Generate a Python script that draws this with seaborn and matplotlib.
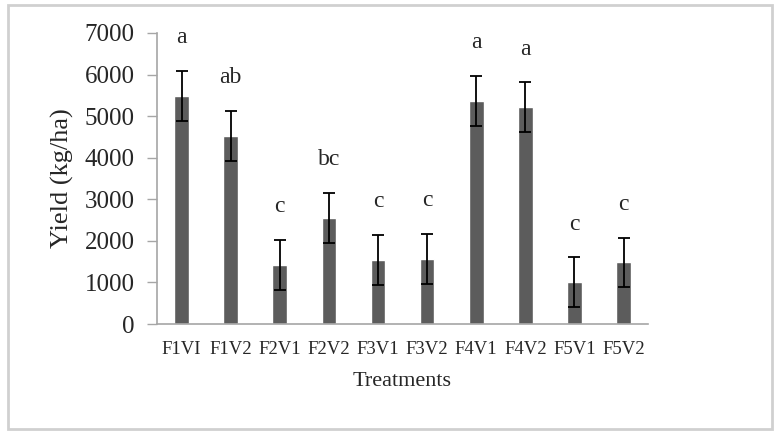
import numpy as np
import pandas as pd
import seaborn as sns
import matplotlib.pyplot as plt
from matplotlib.patches import Rectangle

treatments = ["F1VI", "F1V2", "F2V1", "F2V2", "F3V1", "F3V2", "F4V1", "F4V2", "F5V1", "F5V2"]
yield_kg_ha = [5480, 4520, 1420, 2550, 1540, 1570, 5360, 5210, 1000, 1480]
yield_err = [600, 600, 600, 600, 600, 600, 600, 600, 600, 600]
letters = ["a", "ab", "c", "bc", "c", "c", "a", "a", "c", "c"]

sns.set_style("white")
plt.rcParams['font.family'] = ['Liberation Serif', 'DejaVu Serif']

df = pd.DataFrame({"Treatments": treatments, "Yield": yield_kg_ha})

fig = plt.figure(figsize=(7.79, 4.33), dpi=100)
ax = fig.add_axes([0.2015, 0.2517, 0.6305, 0.6721])

sns.barplot(data=df, x="Treatments", y="Yield", color="#5c5c5c", saturation=1,
            width=0.3, errorbar=None, ax=ax)
x = np.arange(len(treatments))
ax.errorbar(x, yield_kg_ha, yerr=yield_err, fmt="none", ecolor="black",
            elinewidth=1.3, capsize=4.5, capthick=1.3)

for xi, v, e, lab in zip(x, yield_kg_ha, yield_err, letters):
    ax.text(xi, v + e + 800, lab, ha="center", va="center", fontsize=17)

ax.set_ylim(0, 7000)
ax.set_xlim(-0.5, len(treatments) - 0.5)
ax.set_yticks(range(0, 7001, 1000))
ax.set_ylabel("Yield (kg/ha)", fontsize=19, labelpad=8)
ax.set_xlabel("Treatments", fontsize=16, labelpad=10)
ax.tick_params(axis="y", labelsize=18, length=7, width=1, color="#a6a6a6",
               direction="out", left=True, pad=9)
ax.tick_params(axis="x", labelsize=13.5, length=0, pad=12)

for side in ["top", "right"]:
    ax.spines[side].set_visible(False)
for side in ["left", "bottom"]:
    ax.spines[side].set_color("#a6a6a6")
    ax.spines[side].set_linewidth(1.2)

# light gray frame around the whole figure
fig.patches.append(Rectangle((0.010, 0.010), 0.981, 0.978, transform=fig.transFigure,
                             fill=False, edgecolor="#d0d0d0", linewidth=2))

plt.savefig("out.png", dpi=100)
plt.close()
